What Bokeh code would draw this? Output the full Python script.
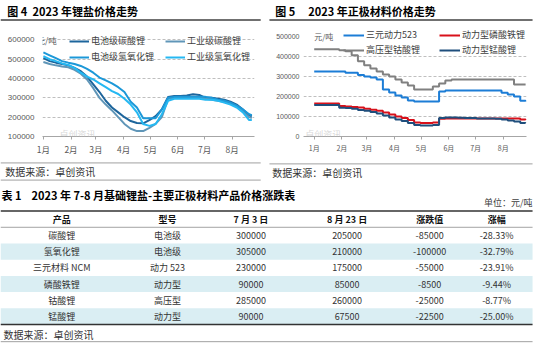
from bokeh.plotting import figure
from bokeh.layouts import column, row
from bokeh.models import Range1d, FixedTicker, Legend, LegendItem, Label
from bokeh.core.properties import value
from bokeh.embed import file_html
from bokeh.resources import INLINE

CJK = "Noto Sans CJK SC"

# ---------------- data ----------------
month_labels = ["1月", "2月", "3月", "4月", "5月", "6月", "7月", "8月"]
month_start_day = [0, 31, 59, 90, 120, 151, 181, 212]

salt_days = [0, 7, 14, 21, 28, 35, 42, 49, 56, 63, 70, 77, 84, 91, 98, 105, 112, 119,
             126, 133, 140, 147, 154, 161, 168, 175, 182, 189, 196, 203, 210, 217, 224, 231, 234]
battery_carbonate = [505000, 490000, 482000, 475000, 468000, 455000, 438000, 410000, 370000, 330000,
                     285000, 250000, 225000, 200000, 180000, 170000, 168000, 185000, 205000, 240000,
                     305000, 310000, 310000, 312000, 318000, 315000, 300000, 300000, 295000, 290000,
                     280000, 265000, 240000, 210000, 205000]
industrial_carbonate = [485000, 475000, 468000, 462000, 458000, 445000, 425000, 395000, 350000, 300000,
                        265000, 235000, 200000, 165000, 140000, 128000, 128000, 145000, 165000, 200000,
                        295000, 300000, 300000, 303000, 305000, 303000, 295000, 290000, 285000, 280000,
                        270000, 255000, 230000, 200000, 195000]
battery_hydroxide = [535000, 520000, 505000, 490000, 482000, 475000, 465000, 450000, 430000, 405000,
                     390000, 375000, 355000, 330000, 280000, 250000, 195000, 195000, 195000, 240000,
                     300000, 305000, 305000, 305000, 305000, 305000, 305000, 300000, 290000, 285000,
                     275000, 260000, 240000, 215000, 210000]
industrial_hydroxide = [515000, 500000, 490000, 478000, 470000, 455000, 430000, 410000, 395000, 375000,
                        355000, 335000, 320000, 295000, 265000, 225000, 165000, 155000, 165000, 215000,
                        285000, 295000, 295000, 295000, 295000, 295000, 290000, 290000, 285000, 275000,
                        265000, 250000, 225000, 185000, 185000]
salt_names = ["电池级碳酸锂", "工业级碳酸锂", "电池级氢氧化锂", "工业级氢氧化锂"]
salt_yticks = [100000, 200000, 300000, 400000, 500000, 600000]
salt_ytick_labels = ["100000", "200000", "300000", "400000", "500000", "600000"]

cathode_days = [0, 7, 14, 21, 28, 35, 42, 49, 56, 63, 70, 77, 84, 91, 98, 105, 112, 119,
                126, 133, 140, 147, 154, 161, 168, 175, 182, 189, 196, 203, 210, 217, 224, 231, 237]
ncm523 = [325000, 325000, 325000, 325000, 325000, 318000, 318000, 307000, 300000, 295000,
          285000, 235000, 220000, 205000, 195000, 180000, 175000, 175000, 175000, 175000,
          225000, 230000, 230000, 230000, 230000, 230000, 230000, 230000, 230000, 230000,
          218000, 210000, 200000, 178000, 175000]
lfp = [165000, 165000, 165000, 165000, 152000, 150000, 147000, 145000, 138000, 133000,
       128000, 120000, 110000, 100000, 92000, 82000, 70000, 67000, 67000, 70000,
       88000, 90000, 90000, 90000, 90000, 90000, 90000, 90000, 90000, 90000,
       90000, 90000, 90000, 85000, 82000]
lco = [435000, 435000, 435000, 435000, 430000, 425000, 405000, 375000, 355000, 340000,
       325000, 310000, 300000, 285000, 270000, 255000, 235000, 235000, 235000, 250000,
       265000, 280000, 285000, 285000, 285000, 285000, 285000, 285000, 285000, 285000,
       285000, 285000, 260000, 260000, 260000]
lmo = [157000, 157000, 157000, 157000, 143000, 142000, 138000, 132000, 128000, 122000,
       115000, 105000, 95000, 85000, 77000, 68000, 58000, 55000, 55000, 58000,
       92000, 95000, 95000, 93000, 92000, 92000, 90000, 90000, 90000, 88000,
       85000, 80000, 75000, 68000, 67000]
cathode_names = ["三元动力523", "动力型磷酸铁锂", "高压型钴酸锂", "动力型锰酸锂"]
cathode_yticks = [0, 100000, 200000, 300000, 400000, 500000]
cathode_ytick_labels = ["0", "100000", "200000", "300000", "400000", "500000"]

table_headers = ["产品", "型号", "7 月 3 日", "8 月 23 日", "涨跌值", "涨幅"]
table_products = ["碳酸锂", "氢氧化锂", "三元材料 NCM", "磷酸铁锂", "钴酸锂", "锰酸锂"]
table_models = ["电池级", "电池级", "动力 523", "动力型", "高压型", "动力型"]
table_jul3 = [300000, 305000, 230000, 90000, 285000, 90000]
table_aug23 = [205000, 210000, 175000, 85000, 260000, 67500]
table_change = [-85000, -100000, -55000, -8500, -25000, -22500]
table_pct = ["-28.33%", "-32.79%", "-23.91%", "-9.44%", "-8.77%", "-25.00%"]

fig_nums = ["图 4", "图 5"]
fig_titles = ["2023 年锂盐价格走势", "2023 年正极材料价格走势"]
table_num = "表 1"
table_title = "2023 年 7-8 月基础锂盐-主要正极材料产品价格涨跌表"
source_text = "数据来源：卓创资讯"
unit_text = "单位：元/吨"

# ---------------- layout constants ----------------
W = 534
H_HEAD, H_CHART, H_TAB = 21, 140, 184
salt_colors = ["#1D659C", "#6096B8", "#1C98D8", "#25B8F2"]
cathode_colors = ["#1C7DD6", "#D8101A", "#808080", "#1F4E7C"]


def deco_fig(width, height, xr, yr):
    f = figure(width=width, height=height, x_range=xr, y_range=yr, output_backend="svg",
               toolbar_location=None, x_axis_type=None, y_axis_type=None, min_border=0)
    f.outline_line_color = None
    f.background_fill_color = "white"
    f.border_fill_color = "white"
    return f


def style_chart(p, yticks, ylabels, grid_ticks, xfs, yfs, ystand):
    p.outline_line_color = None
    p.xgrid.visible = False
    p.ygrid.ticker = FixedTicker(ticks=grid_ticks)
    p.ygrid.grid_line_color = "#BFBFBF"
    p.ygrid.grid_line_dash = "3 2"
    p.ygrid.grid_line_width = 1
    xa = p.xaxis[0]
    xa.ticker = FixedTicker(ticks=month_start_day)
    xa.major_label_overrides = {d: m for d, m in zip(month_start_day, month_labels)}
    xa.axis_line_color = "#A6A6A6"
    xa.major_tick_line_color = "#A6A6A6"
    xa.major_tick_out = 3
    xa.major_tick_in = 0
    xa.minor_tick_line_color = None
    xa.major_label_standoff = 3
    xa.major_label_text_font = CJK
    xa.major_label_text_font_size = xfs
    xa.major_label_text_color = "#595959"
    ya = p.yaxis[0]
    ya.ticker = FixedTicker(ticks=yticks)
    ya.major_label_overrides = {t: s for t, s in zip(yticks, ylabels)}
    ya.axis_line_color = None
    ya.major_tick_line_color = None
    ya.minor_tick_line_color = None
    ya.major_tick_out = 0
    ya.major_tick_in = 0
    ya.major_label_standoff = ystand
    ya.major_label_text_font = "Liberation Sans"
    ya.major_label_text_font_size = yfs
    ya.major_label_text_color = "#595959"


def add_legend_row(p, names, rends, loc, glyph_w, label_w, spacing):
    leg = Legend(items=[LegendItem(label=n, renderers=[r]) for n, r in zip(names, rends)],
                 orientation="horizontal", location=loc, padding=0, margin=0, spacing=spacing,
                 label_standoff=2, glyph_width=glyph_w, glyph_height=12, label_height=12,
                 label_width=label_w, background_fill_alpha=0, border_line_color=None,
                 label_text_font=CJK, label_text_font_size="9px", label_text_color="#404040")
    p.add_layout(leg)


# ---------------- header ----------------
head = deco_fig(W, H_HEAD, Range1d(0, 550), Range1d(22, 0))
head.text(x=[7, 283], y=[11.5, 11.5], text=fig_nums, text_font=value(CJK),
          text_font_size="11px", text_font_style="bold", text_baseline="middle",
          text_align="left", text_color="#000000")
head.text(x=[33, 317], y=[11.5, 11.5], text=fig_titles, text_font=value(CJK),
          text_font_size="11px", text_font_style="bold", text_baseline="middle",
          text_align="left", text_color="#000000")
head.segment(x0=[0, 277], y0=[20.5, 20.5], x1=[268, 548], y1=[20.5, 20.5],
             line_color="#404040", line_width=1.5)

# ---------------- left chart ----------------
pL = figure(width=267, height=H_CHART, x_range=Range1d(-1, 237), y_range=Range1d(100000, 669000),
            output_backend="svg", toolbar_location=None, min_border_left=42, min_border_right=13,
            min_border_top=5, min_border_bottom=25)
style_chart(pL, salt_yticks, salt_ytick_labels, salt_yticks[1:], "8.5px", "8px", 8)
rL = []
for ys, col in zip([battery_carbonate, industrial_carbonate, battery_hydroxide, industrial_hydroxide],
                   salt_colors):
    rL.append(pL.line(salt_days, ys, line_color=col, line_width=2))
add_legend_row(pL, salt_names[:2], rL[:2], (27, 89), 20, 63, 11)
add_legend_row(pL, salt_names[2:], rL[2:], (27, 73), 20, 63, 11)
pL.add_layout(Label(x=-1, y=600000, x_offset=-6, text="元/吨", text_font=CJK,
                    text_font_size="8.5px", text_color="#595959", text_baseline="middle"))
pL.add_layout(Label(x=18, y=112000, text="卓创资讯", text_font=CJK, text_font_size="9px",
                    text_color="#C8C8C8", text_alpha=0.7, text_baseline="middle"))

# ---------------- right chart ----------------
pR = figure(width=267, height=H_CHART, x_range=Range1d(-12, 238), y_range=Range1d(0, 549000),
            output_backend="svg", toolbar_location=None, min_border_left=36, min_border_right=8,
            min_border_top=2, min_border_bottom=20)
style_chart(pR, cathode_yticks, cathode_ytick_labels, cathode_yticks[1:-1], "7px", "7px", 4)
rR = []
for ys, col in zip([ncm523, lfp, lco, lmo], cathode_colors):
    rR.append(pR.step(cathode_days, ys, mode="after", line_color=col, line_width=2))
add_legend_row(pR, cathode_names[:2], rR[:2], (40, 95), 21, 60, 13)
add_legend_row(pR, cathode_names[2:], rR[2:], (40, 80), 21, 60, 13)
pR.add_layout(Label(x=0, y=500000, text="元/吨", text_font=CJK,
                    text_font_size="8px", text_color="#595959", text_baseline="middle"))
pR.add_layout(Label(x=-10, y=10000, text="卓创资讯", text_font=CJK, text_font_size="9px",
                    text_color="#C8C8C8", text_alpha=0.7, text_baseline="middle"))

# ---------------- table (y in row units: row k at y=k) ----------------
def ry(py):
    return (py - 228.5) / 17.0

tab = deco_fig(W, H_TAB, Range1d(0, 550), Range1d(ry(361), ry(168)))
col_x = [63, 172, 258, 357, 442, 511]
rows = [i + 1 for i in range(len(table_products))]
shaded = [r for r in rows if r % 2 == 0]
tab.hbar(y=shaded, left=0, right=548, height=1.0, fill_color="#DAEEF3", line_color=None)

# chart sources
tab.segment(x0=[0, 277, 0], y0=[ry(169.5), ry(170.5), ry(187.5)],
            x1=[268, 548, 268], y1=[ry(169.5), ry(170.5), ry(187.5)],
            line_color="#A0A0A0", line_width=1)
tab.text(x=[5, 280], y=[ry(178.5), ry(179.5)], text=[source_text, source_text],
         text_font=value(CJK), text_font_size="10px", text_color="#333333",
         text_baseline="middle", text_align="left")
# table title / unit
tab.text(x=[1], y=[ry(203)], text=[table_num], text_font=value(CJK), text_font_size="11px",
         text_font_style="bold", text_baseline="middle", text_align="left", text_color="#000000")
tab.text(x=[32], y=[ry(203)], text=[table_title], text_font=value(CJK), text_font_size="11px",
         text_font_style="bold", text_baseline="middle", text_align="left", text_color="#000000")
tab.text(x=[548], y=[ry(211)], text=[unit_text], text_font=value(CJK), text_font_size="9px",
         text_baseline="middle", text_align="right", text_color="#404040")
# rules
tab.segment(x0=[0, 0, 0], y0=[-0.5, 0.5, 6.5], x1=[548, 548, 548], y1=[-0.5, 0.5, 6.5],
            line_color=["#333333", "#8C8C8C", "#333333"], line_width=[1.5, 0.8, 1.5])
tab.segment(x0=[0], y0=[ry(357)], x1=[548], y1=[ry(357)], line_color="#A0A0A0", line_width=1)
# header
tab.text(x=col_x, y=[0] * len(col_x), text=table_headers, text_font=value(CJK),
         text_font_size="9px", text_font_style="bold", text_baseline="middle",
         text_align="center", text_color="#111111")
cols = [table_products, table_models, [str(v) for v in table_jul3], [str(v) for v in table_aug23],
        [str(v) for v in table_change], table_pct]
for cx, vals in zip(col_x, cols):
    tab.text(x=[cx] * len(vals), y=rows, text=vals, text_font=value(CJK), text_font_size="9px",
             text_baseline="middle", text_align="center", text_color="#333333")
tab.text(x=[3], y=[ry(349)], text=[source_text], text_font=value(CJK), text_font_size="10px",
         text_color="#333333", text_baseline="middle", text_align="left")

layout = column(head, row(pL, pR), tab)
open("out.html", "w").write(file_html(layout, INLINE))
